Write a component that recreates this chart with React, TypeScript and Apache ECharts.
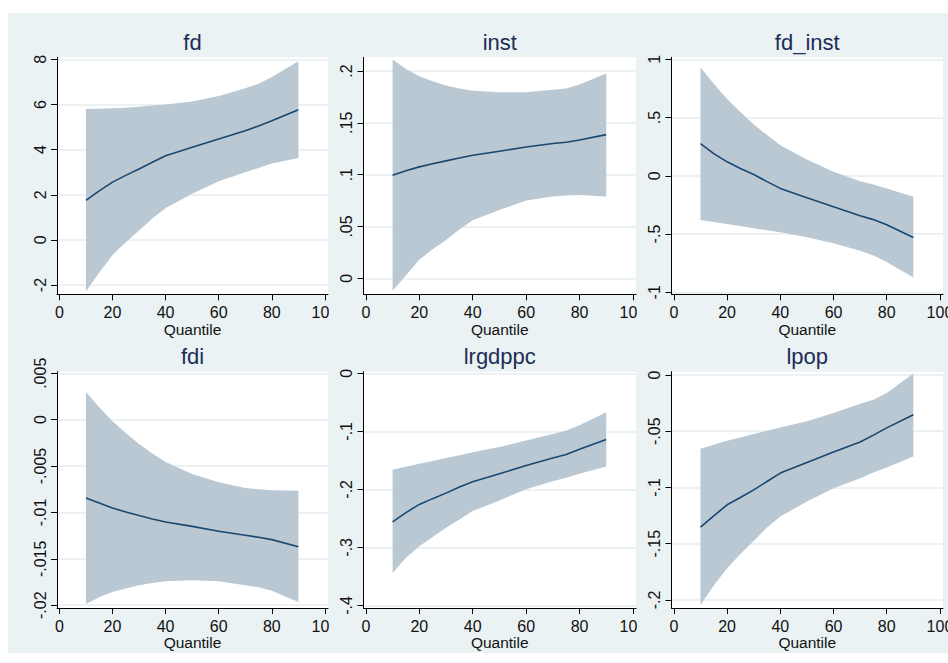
import React, { useEffect, useRef } from 'react';
import * as echarts from 'echarts';

// ---------- data ----------
const QUANTILES = [10, 15, 20, 25, 30, 35, 40, 50, 60, 70, 75, 80, 90];
const X_TICKS = [0, 20, 40, 60, 80, 100];
const PANEL_TITLES = ['fd', 'inst', 'fd_inst', 'fdi', 'lrgdppc', 'lpop'];

const FD_MEAN = [1.75, 2.17, 2.56, 2.86, 3.14, 3.44, 3.73, 4.1, 4.47, 4.84, 5.05, 5.28, 5.77];
const FD_UPPER = [5.8, 5.81, 5.83, 5.86, 5.9, 5.95, 6.0, 6.13, 6.38, 6.72, 6.92, 7.22, 7.92];
const FD_LOWER = [-2.27, -1.45, -0.67, -0.1, 0.42, 0.95, 1.41, 2.05, 2.6, 3.0, 3.19, 3.38, 3.63];
const FD_TICKS = [-2, 0, 2, 4, 6, 8];

const INST_MEAN = [0.0995, 0.1037, 0.1075, 0.1105, 0.1133, 0.116, 0.1187, 0.1226, 0.1267, 0.13, 0.1313, 0.1334, 0.1386];
const INST_UPPER = [0.211, 0.202, 0.195, 0.19, 0.186, 0.183, 0.181, 0.1795, 0.1795, 0.1818, 0.183, 0.187, 0.1975];
const INST_LOWER = [-0.012, 0.003, 0.018, 0.028, 0.037, 0.047, 0.056, 0.066, 0.075, 0.079, 0.08, 0.0805, 0.079];
const INST_TICKS = [0, 0.05, 0.1, 0.15, 0.2];

const FDINST_MEAN = [0.276, 0.19, 0.12, 0.063, 0.011, -0.05, -0.108, -0.188, -0.265, -0.342, -0.376, -0.42, -0.53];
const FDINST_UPPER = [0.93, 0.79, 0.66, 0.547, 0.44, 0.35, 0.262, 0.14, 0.034, -0.046, -0.074, -0.108, -0.18];
const FDINST_LOWER = [-0.379, -0.396, -0.413, -0.431, -0.45, -0.467, -0.484, -0.527, -0.578, -0.644, -0.684, -0.74, -0.872];
const FDINST_TICKS = [-1, -0.5, 0, 0.5, 1];

const FDI_MEAN = [-0.00845, -0.00898, -0.00952, -0.00995, -0.01034, -0.0107, -0.01103, -0.0115, -0.01203, -0.01246, -0.01268, -0.01293, -0.01369];
const FDI_UPPER = [0.00298, 0.00133, -0.00018, -0.00144, -0.00262, -0.00366, -0.00456, -0.00585, -0.00675, -0.00736, -0.00751, -0.00761, -0.00765];
const FDI_LOWER = [-0.01986, -0.01915, -0.01857, -0.0182, -0.01785, -0.0176, -0.01742, -0.01731, -0.01742, -0.01785, -0.01807, -0.01843, -0.01965];
const FDI_TICKS = [-0.02, -0.015, -0.01, -0.005, 0, 0.005];

const LRG_MEAN = [-0.256, -0.24, -0.226, -0.216, -0.2065, -0.196, -0.187, -0.173, -0.159, -0.146, -0.14, -0.131, -0.114];
const LRG_UPPER = [-0.166, -0.161, -0.156, -0.151, -0.146, -0.141, -0.136, -0.127, -0.116, -0.1044, -0.0987, -0.0895, -0.067];
const LRG_LOWER = [-0.344, -0.318, -0.298, -0.282, -0.266, -0.252, -0.2375, -0.219, -0.2, -0.186, -0.18, -0.173, -0.1606];
const LRG_TICKS = [-0.4, -0.3, -0.2, -0.1, 0];

const LPOP_MEAN = [-0.1353, -0.1252, -0.1154, -0.1089, -0.1021, -0.0947, -0.0872, -0.0777, -0.0685, -0.0596, -0.0535, -0.047, -0.0353];
const LPOP_UPPER = [-0.0656, -0.062, -0.0585, -0.0555, -0.0525, -0.0495, -0.0466, -0.0412, -0.0338, -0.0255, -0.022, -0.016, 0.0012];
const LPOP_LOWER = [-0.2045, -0.187, -0.1718, -0.159, -0.1475, -0.1356, -0.1258, -0.1125, -0.1006, -0.0917, -0.0866, -0.0822, -0.0724];
const LPOP_TICKS = [-0.2, -0.15, -0.1, -0.05, 0];

// ---------- layout / style ----------
const SERIES = [
  { mean: FD_MEAN, upper: FD_UPPER, lower: FD_LOWER, ticks: FD_TICKS },
  { mean: INST_MEAN, upper: INST_UPPER, lower: INST_LOWER, ticks: INST_TICKS },
  { mean: FDINST_MEAN, upper: FDINST_UPPER, lower: FDINST_LOWER, ticks: FDINST_TICKS },
  { mean: FDI_MEAN, upper: FDI_UPPER, lower: FDI_LOWER, ticks: FDI_TICKS },
  { mean: LRG_MEAN, upper: LRG_UPPER, lower: LRG_LOWER, ticks: LRG_TICKS },
  { mean: LPOP_MEAN, upper: LPOP_UPPER, lower: LPOP_LOWER, ticks: LPOP_TICKS },
];
const Y_RANGES = [
  [-2.41, 8.09],
  [-0.0154, 0.2132],
  [-1.017, 1.017],
  [-0.0203, 0.00517],
  [-0.4045, 0.0028],
  [-0.2071, 0.0029],
];
const X_RANGE = [-0.9, 101.15];
const COL_LEFT = [57, 363.5, 671.5];
const COL_WIDTH = [271, 272.5, 271.5];
const ROW_TOP = [57.3, 371.7];
const ROW_HEIGHT = [237, 236.3];
const TITLE_Y = [42.5, 356];

const BG = '#EAF2F3';
const GRIDLINE = '#E6EEF0';
const BAND = '#BAC8D3';
const LINE = '#1A476F';
const TITLE_COLOR = '#1C2D56';
const FONT = '"Liberation Sans", Arial, Helvetica, sans-serif';

const fmt = (v: number) => {
  const r = Math.round(v * 100000) / 100000;
  return String(r).replace(/^(-?)0\./, '$1.');
};

export default function App() {
  const ref = useRef<HTMLDivElement>(null);

  useEffect(() => {
    if (!ref.current) return;
    const chart = echarts.init(ref.current, undefined, { renderer: 'svg' });

    const grids: any[] = [];
    const xAxes: any[] = [];
    const yAxes: any[] = [];
    const series: any[] = [];
    const graphics: any[] = [];

    SERIES.forEach((p, i) => {
      const col = i % 3;
      const row = Math.floor(i / 3);
      grids.push({
        show: true,
        backgroundColor: '#ffffff',
        borderWidth: 0,
        left: COL_LEFT[col],
        top: ROW_TOP[row],
        width: COL_WIDTH[col],
        height: ROW_HEIGHT[row],
        containLabel: false,
        outerBoundsMode: 'none',
      });
      xAxes.push({
        type: 'value',
        gridIndex: i,
        min: X_RANGE[0],
        max: X_RANGE[1],
        axisLine: { show: true, onZero: false, lineStyle: { color: '#000', width: 1 } },
        axisTick: { show: true, length: 6, customValues: X_TICKS, lineStyle: { color: '#000', width: 1 } },
        axisLabel: {
          customValues: X_TICKS,
          margin: 10,
          fontSize: 16,
          color: '#111',
          fontFamily: FONT,
          formatter: (v: number) => String(v),
        },
        splitLine: { show: false },
        name: 'Quantile',
        nameLocation: 'middle',
        nameGap: 26,
        nameTextStyle: { fontSize: 15.5, color: '#111', fontFamily: FONT },
      });
      yAxes.push({
        type: 'value',
        gridIndex: i,
        min: Y_RANGES[i][0],
        max: Y_RANGES[i][1],
        axisLine: { show: true, onZero: false, lineStyle: { color: '#000', width: 1 } },
        axisTick: { show: true, length: 6, customValues: p.ticks, lineStyle: { color: '#000', width: 1 } },
        axisLabel: {
          customValues: p.ticks,
          rotate: 90,
          margin: 9,
          fontSize: 16,
          color: '#111',
          fontFamily: FONT,
          formatter: (v: number) => fmt(v),
        },
        splitLine: { show: true, lineStyle: { color: GRIDLINE, width: 1.5 } },
      });
      series.push({
        type: 'custom',
        xAxisIndex: i,
        yAxisIndex: i,
        silent: true,
        z: 2,
        clip: true,
        data: [[QUANTILES[0], p.lower[0]]],
        renderItem: (_params: any, api: any) => {
          const pts: number[][] = [];
          for (let k = 0; k < QUANTILES.length; k++) pts.push(api.coord([QUANTILES[k], p.upper[k]]));
          for (let k = QUANTILES.length - 1; k >= 0; k--) pts.push(api.coord([QUANTILES[k], p.lower[k]]));
          return { type: 'polygon', shape: { points: pts }, style: { fill: BAND, stroke: 'none' } };
        },
      });
      series.push({
        type: 'line',
        xAxisIndex: i,
        yAxisIndex: i,
        silent: true,
        z: 3,
        showSymbol: false,
        symbol: 'none',
        data: QUANTILES.map((q, k) => [q, p.mean[k]]),
        lineStyle: { color: LINE, width: 1.6 },
      });
      graphics.push({
        type: 'text',
        x: COL_LEFT[col] + COL_WIDTH[col] / 2,
        y: TITLE_Y[row],
        z: 50,
        style: {
          text: PANEL_TITLES[i],
          fill: TITLE_COLOR,
          fontSize: 22,
          fontFamily: FONT,
          textAlign: 'center',
          textVerticalAlign: 'middle',
        },
      });
    });

    // clip overflowing "100" labels at sub-graph boundaries
    const covers = [
      [329, 302, 14, 22],
      [329, 616, 12, 24],
      [637, 302, 14, 22],
      [637, 616, 12, 24],
    ];
    covers.forEach(([x, y, w, h]) => {
      graphics.push({
        type: 'rect',
        z: 100,
        shape: { x, y, width: w, height: h },
        style: { fill: BG },
        silent: true,
      });
    });

    chart.setOption({
      animation: false,
      backgroundColor: 'transparent',
      grid: grids,
      xAxis: xAxes,
      yAxis: yAxes,
      series,
      graphic: { elements: graphics },
    });

    return () => chart.dispose();
  }, []);

  return (
    <div style={{ position: 'absolute', left: 0, top: 0, width: 948, height: 663, background: '#ffffff', overflow: 'hidden' }}>
      <div style={{ position: 'absolute', left: 8, top: 13, width: 940, height: 640, background: BG }} />
      <div ref={ref} style={{ position: 'absolute', left: 0, top: 0, width: 948, height: 663 }} />
    </div>
  );
}
